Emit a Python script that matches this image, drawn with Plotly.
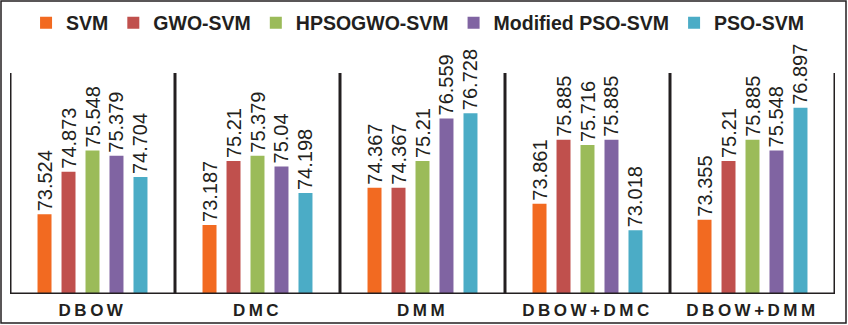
import plotly.graph_objects as go

categories = ["DBOW", "DMC", "DMM", "DBOW+DMC", "DBOW+DMM"]
series_names = ["SVM", "GWO-SVM", "HPSOGWO-SVM", "Modified PSO-SVM", "PSO-SVM"]
svm = [73.524, 73.187, 74.367, 73.861, 73.355]
gwo_svm = [74.873, 75.21, 74.367, 75.885, 75.21]
hpsogwo_svm = [75.548, 75.379, 75.21, 75.716, 75.885]
mod_pso_svm = [75.379, 75.04, 76.559, 75.885, 75.548]
pso_svm = [74.704, 74.198, 76.728, 73.018, 76.897]
colors = ["#F26A21", "#C0504D", "#9BBB59", "#8064A2", "#4BACC6"]
y_min, y_max = 71, 78

all_series = [svm, gwo_svm, hpsogwo_svm, mod_pso_svm, pso_svm]
FONT = "Liberation Sans, Arial, sans-serif"
INK = "#231F20"

fig = go.Figure()
for name, vals, col in zip(series_names, all_series, colors):
    fig.add_trace(go.Bar(
        x=categories, y=vals, name=name, marker_color=col, marker_line_width=0,
        text=[str(v) for v in vals], textposition="outside", textangle=-90,
        constraintext="none", cliponaxis=False,
        textfont=dict(family=FONT, size=20, color=INK),
    ))

shapes = []
n = len(categories)
for i in range(n + 1):
    shapes.append(dict(type="line", xref="x", yref="y", x0=i - 0.5, x1=i - 0.5,
                       y0=y_min, y1=y_max, line=dict(color=INK, width=3)))
shapes.append(dict(type="line", xref="x", yref="y", x0=-0.5, x1=n - 0.5,
                   y0=y_min, y1=y_min, line=dict(color=INK, width=3)))
# outer frame
W, H = 848, 325
ml, mr, mt, mb = 10, 13, 73, 31
pw, ph = W - ml - mr, H - mt - mb
shapes.append(dict(type="rect", xref="paper", yref="paper",
                   x0=(1 - ml) / pw, x1=(846 - ml) / pw,
                   y0=(H - mb - 323) / ph, y1=(H - mb - 1) / ph,
                   line=dict(color=INK, width=1.5)))

fig.update_layout(
    width=W, height=H,
    margin=dict(l=ml, r=mr, t=mt, b=mb, autoexpand=False),
    barmode="group", bargap=0.273, bargroupgap=0.417,
    plot_bgcolor="white", paper_bgcolor="white",
    font=dict(family=FONT, color=INK),
    shapes=shapes,
    legend=dict(orientation="h", x=0.494, xanchor="center", y=(H - mb - 23) / ph,
                yanchor="middle", font=dict(family=FONT, size=19.5, color=INK, weight="bold"),
                itemwidth=30, tracegroupgap=0),
    xaxis=dict(showline=False, showgrid=False, ticks="", range=[-0.5, n - 0.5],
               ticklabelstandoff=4,
               tickfont=dict(family=FONT, size=17, color=INK, weight="bold")),
    yaxis=dict(range=[y_min, y_max], visible=False, showgrid=False),
)

post = """
document.querySelectorAll('.xtick text').forEach(function(t){
  t.setAttribute('letter-spacing','3.5px');
});
"""
fig.write_html("out.html", post_script=post)
